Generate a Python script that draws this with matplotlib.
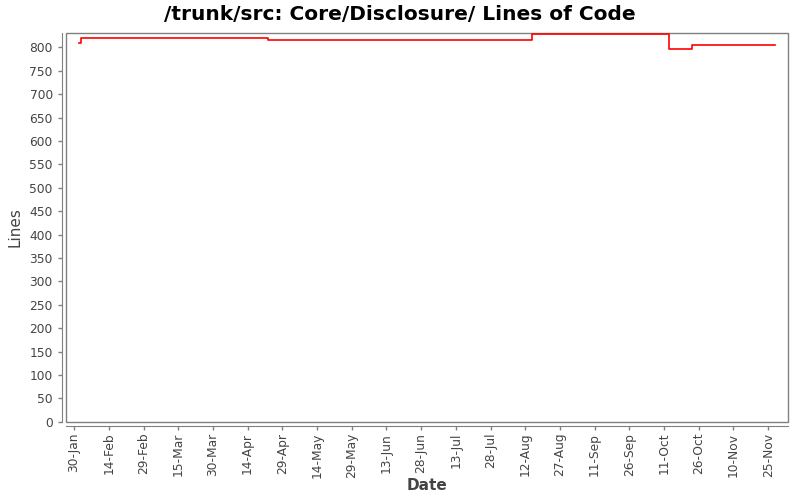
import datetime as dt
import numpy as np
import matplotlib
matplotlib.use("Agg")
import matplotlib.pyplot as plt
import matplotlib.dates as mdates
from matplotlib.patches import Rectangle

# commit dates and lines of code
dates = ["2008-02-01", "2008-02-02", "2008-03-21", "2008-04-23",
         "2008-08-15", "2008-10-13", "2008-10-23", "2008-11-28"]
loc = [809, 819, 821, 815, 828, 796, 804, 806]

first_tick = dt.datetime(2008, 1, 30)
tick_dates = [first_tick + dt.timedelta(days=15 * i) for i in range(21)]

x = [dt.datetime.strptime(d, "%Y-%m-%d") for d in dates]

fig = plt.figure(figsize=(8, 5), dpi=100)
ax = fig.add_axes([0.0825, 0.1566, 0.9025, 0.7768])

ax.plot(x, loc, color="red", lw=1.2, drawstyle="steps-post")

ax.set_xlim(dt.datetime(2008, 1, 26, 12), dt.datetime(2008, 12, 3, 14))
ax.set_ylim(0, 830)
ax.set_yticks(np.arange(0, 801, 50))
ax.set_xticks(tick_dates)
ax.xaxis.set_major_formatter(mdates.DateFormatter("%d-%b"))
ax.tick_params(axis="x", labelrotation=90, pad=2)

grey = "#808080"
for side in ["top", "right"]:
    ax.spines[side].set_visible(False)
ax.spines["left"].set_position(("outward", 3))
ax.spines["bottom"].set_position(("outward", 3))
ax.spines["left"].set_color(grey)
ax.spines["bottom"].set_color(grey)
ax.add_patch(Rectangle((0, 0), 1, 1, transform=ax.transAxes, fill=False,
                       edgecolor=grey, lw=1, clip_on=False))
ax.tick_params(colors=grey, labelcolor="#444444", labelsize=8.8, length=3, width=1)

fig.text(0.534, 1 - 485 / 500, "Date", ha="center", va="center",
         fontsize=11, color="#444444", fontweight="semibold")
ax.set_ylabel("Lines", fontsize=11, color="#444444", labelpad=5)
fig.suptitle("/trunk/src: Core/Disclosure/ Lines of Code", fontsize=14.5,
             fontweight="bold", y=0.99)

fig.savefig("out.png")
